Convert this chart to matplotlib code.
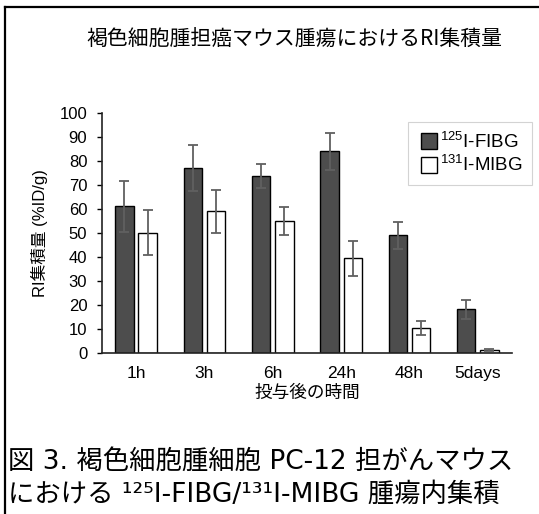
import matplotlib
matplotlib.use("Agg")
import matplotlib.pyplot as plt
import numpy as np
from matplotlib.lines import Line2D

plt.rcParams['font.family'] = ['Liberation Sans', 'Noto Sans CJK JP', 'DejaVu Sans']
plt.rcParams['mathtext.default'] = 'regular'

categories = ['1h', '3h', '6h', '24h', '48h', '5days']
fibg = [61.2, 77.0, 73.6, 84.0, 49.0, 18.3]
fibg_err = [10.7, 9.5, 5.0, 7.6, 5.7, 3.9]
mibg = [50.2, 59.0, 55.0, 39.5, 10.4, 1.2]
mibg_err = [9.3, 9.0, 5.7, 7.3, 2.8, 0.4]
series_labels = [r'$^{125}$I-FIBG', r'$^{131}$I-MIBG']
title = '褐色細胞腫担癌マウス腫瘍におけるRI集積量'
ylabel = 'RI集積量 (%ID/g)'
xlabel = '投与後の時間'
caption1 = '図 3. 褐色細胞腫細胞 PC-12 担がんマウス'
caption2 = 'における ¹²⁵I-FIBG/¹³¹I-MIBG 腫瘍内集積'

fig = plt.figure(figsize=(5.39, 5.14), dpi=100)
ax = fig.add_axes([0.189, 0.313, 0.761, 0.467])

x = np.arange(len(categories))
w = 0.27
off = 0.17
ekw = dict(ecolor='#606060', elinewidth=1.3, capsize=3.5, capthick=1.3)
ax.bar(x - off, fibg, w, color='#4d4d4d', edgecolor='black', linewidth=1.0,
       yerr=fibg_err, error_kw=ekw, label=series_labels[0])
ax.bar(x + off, mibg, w, color='white', edgecolor='black', linewidth=1.0,
       yerr=mibg_err, error_kw=ekw, label=series_labels[1])

ax.set_xlim(-0.5, len(categories) - 0.5)
ax.set_ylim(0, 100)
ax.set_yticks(np.arange(0, 101, 10))
ax.set_xticks(x)
ax.set_xticklabels(categories, fontsize=12.5)
ax.tick_params(axis='y', labelsize=12, length=3.5, width=1, direction='out', pad=7)
ax.tick_params(axis='x', length=0, pad=9)
for s in ['top', 'right']:
    ax.spines[s].set_visible(False)
for s in ['left', 'bottom']:
    ax.spines[s].set_linewidth(1.2)
    ax.spines[s].set_color('#222222')

ax.set_ylabel(ylabel, fontsize=12, labelpad=8)
ax.set_xlabel(xlabel, fontsize=12.7, labelpad=3)

leg = ax.legend(handles=[
    Line2D([], [], marker='s', linestyle='none', markersize=11, markerfacecolor='#4d4d4d', markeredgecolor='black'),
    Line2D([], [], marker='s', linestyle='none', markersize=11, markerfacecolor='white', markeredgecolor='black')],
    labels=series_labels, loc='upper right', bbox_to_anchor=(1.049, 0.9625), borderaxespad=0,
    fontsize=13.5, frameon=True, fancybox=False, edgecolor='#c8c8c8',
    handletextpad=0.0, borderpad=0.5, labelspacing=0.2, handlelength=1.2)
leg.get_frame().set_linewidth(0.8)

fig.text(0.547, 0.925, title, ha='center', va='center', fontsize=15,
         family=['Noto Sans CJK JP', 'DejaVu Sans'])

capfam = ['DejaVu Sans', 'Noto Sans CJK JP']
fig.text(0.015, 0.101, caption1, ha='left', va='center', fontsize=19, family=capfam)
fig.text(0.015, 0.037, caption2, ha='left', va='center', fontsize=19, family=capfam)

# outer frame (left and top edges visible)
fig.add_artist(Line2D([5/539, 5/539], [0, 1 - 7/514], transform=fig.transFigure, color='black', linewidth=1.6))
fig.add_artist(Line2D([5/539, 1], [1 - 7/514, 1 - 7/514], transform=fig.transFigure, color='black', linewidth=1.6))

fig.savefig('out.png', dpi=100)
